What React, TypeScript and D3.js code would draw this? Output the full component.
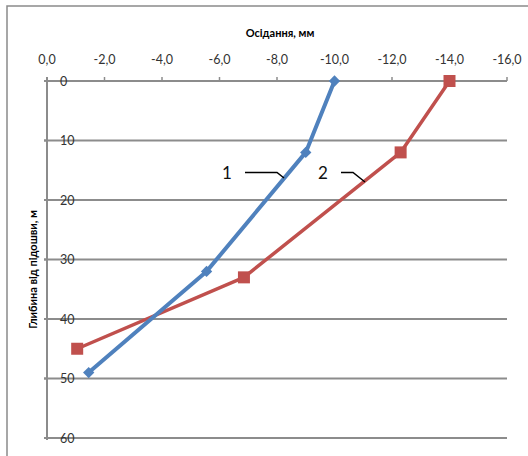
import React from "react";
import * as d3 from "d3";

const xTicks = [0, -2, -4, -6, -8, -10, -12, -14, -16];
const yTicks = [0, 10, 20, 30, 40, 50, 60];

const series1Settle = [-10.0, -9.0, -5.55, -1.45];
const series1Depth = [0, 12, 32, 49];
const series2Settle = [-14.0, -12.3, -6.85, -1.05];
const series2Depth = [0, 12, 33, 45];

const xTitle = "Осідання, мм";
const yTitle = "Глибина від підошви, м";

const W = 528;
const H = 456;
const left = 47;
const right = 507;
const top = 81;
const bottom = 438;

const BLUE = "#4F81BD";
const RED = "#C0504D";
const GRID = "#8C8C8C";
const FONT = "Lato, 'Open Sans', sans-serif";

export default function App() {
  const x = d3.scaleLinear().domain([0, -16]).range([left, right]);
  const y = d3.scaleLinear().domain([0, 60]).range([top, bottom]);
  const line = d3
    .line<[number, number]>()
    .x((d) => x(d[0]))
    .y((d) => y(d[1]));

  const pts1: [number, number][] = series1Settle.map((v, i) => [v, series1Depth[i]]);
  const pts2: [number, number][] = series2Settle.map((v, i) => [v, series2Depth[i]]);

  const fmt = (v: number) => v.toFixed(1).replace(".", ",");

  return (
    <svg
      width={W}
      height={H}
      style={{ position: "absolute", left: 0, top: 0, background: "#fff" }}
      fontFamily={FONT}
    >
      <rect x={0} y={0} width={W} height={H} fill="#fff" />
      <rect x={7} y={6} width={W + 20} height={H + 20} fill="none" stroke="#8a8a8a" strokeWidth={1.5} />

      {yTicks.map((t) => (
        <g key={"g" + t}>
          {t !== 0 && (
            <line x1={left - 3} x2={right} y1={y(t)} y2={y(t)} stroke={GRID} strokeWidth={2} />
          )}
          <line x1={left - 3} x2={left} y1={y(t)} y2={y(t)} stroke={GRID} strokeWidth={2} />
        </g>
      ))}

      <line x1={left} x2={right} y1={top} y2={top} stroke={GRID} strokeWidth={2} />
      {xTicks.map((t) => (
        <g key={"x" + t}>
          <line x1={x(t)} x2={x(t)} y1={top - 4} y2={top} stroke={GRID} strokeWidth={1.5} />
          <text x={x(t)} y={64} textAnchor="middle" fontSize={12.5} fill="#333">
            {fmt(t)}
          </text>
        </g>
      ))}
      <line x1={left} x2={left} y1={top - 4} y2={bottom + 2} stroke={GRID} strokeWidth={2} />

      {yTicks.map((t) => (
        <text key={"yl" + t} x={60} y={y(t) + 4.5} fontSize={12.5} fill="#333">
          {t}
        </text>
      ))}

      <text x={280} y={37} textAnchor="middle" fontSize={11} fontWeight="bold" fill="#000">
        {xTitle}
      </text>
      <text
        transform={`translate(37,${(top + bottom) / 2 + 10}) rotate(-90)`}
        textAnchor="middle"
        fontSize={11}
        fontWeight="bold"
        fill="#000"
      >
        {yTitle}
      </text>

      <path d={line(pts2) || ""} fill="none" stroke={RED} strokeWidth={3.5} strokeLinejoin="round" />
      {pts2.map((p, i) => (
        <rect key={"r" + i} x={x(p[0]) - 6} y={y(p[1]) - 6} width={12} height={12} fill={RED} />
      ))}

      <path d={line(pts1) || ""} fill="none" stroke={BLUE} strokeWidth={4} strokeLinejoin="round" />
      {pts1.map((p, i) => (
        <rect
          key={"b" + i}
          x={-4}
          y={-4}
          width={8}
          height={8}
          transform={`translate(${x(p[0])},${y(p[1])}) rotate(45)`}
          fill={BLUE}
        />
      ))}

      <text x={227} y={179} textAnchor="middle" fontSize={17} fill="#111">1</text>
      <polyline points="245,172.5 277,172.5 284,178" fill="none" stroke="#000" strokeWidth={1.5} />
      <text x={323} y={179} textAnchor="middle" fontSize={17} fill="#111">2</text>
      <polyline points="341,172.5 353,172.5 365,182" fill="none" stroke="#000" strokeWidth={1.5} />
    </svg>
  );
}
